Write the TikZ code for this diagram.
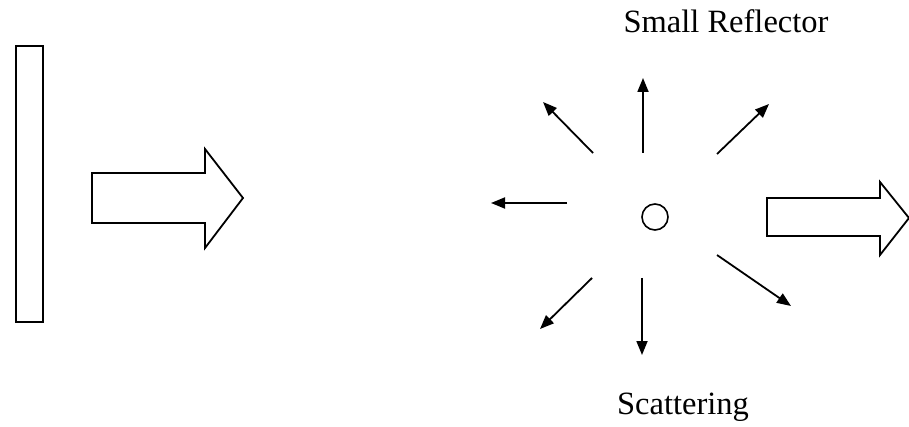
\documentclass[tikz,border=0pt]{standalone}
\usepackage{fontspec}
\setmainfont{Liberation Serif}
\usetikzlibrary{arrows.meta}
\tikzset{
  outline/.style={draw=black, line width=1.8pt, line join=miter, fill=white},
  scat/.style={draw=black, line width=1.8pt, -{Triangle[length=14pt,width=11pt]}},
  label/.style={font=\fontsize{32.5}{34}\selectfont, inner sep=0pt, anchor=base}
}
\begin{document}
\begin{tikzpicture}[x=1pt,y=-1pt]
  \useasboundingbox (0,0) rectangle (909,427);
  \begin{scope}
    \clip (0,0) rectangle (909,427);
    % source plate
    \draw[outline] (16,46) rectangle (43,322);
    % incident wave
    \draw[outline] (92,173) -- (205,173) -- (205,149) -- (243,198)
      -- (205,248) -- (205,223) -- (92,223) -- cycle;
    % small reflector
    \node[draw, circle, line width=1.6pt, minimum size=26pt, inner sep=0pt] (refl) at (655,217) {};
    % scattered rays
    \draw[scat] (643,153) -- (643,78);
    \draw[scat] (593,153) -- (543,102);
    \draw[scat] (717,154) -- (769,104);
    \draw[scat] (567,203) -- (491,203);
    \draw[scat] (592,278) -- (540,329);
    \draw[scat] (642,278) -- (642,355);
    \draw[scat] (717,255) -- (791,306);
    % transmitted wave
    \draw[outline] (767,198) -- (880,198) -- (880,182) -- (909,218)
      -- (880,255) -- (880,236) -- (767,236) -- cycle;
  \end{scope}
  \node[label] (top) at (726,33) {Small Reflector};
  \node[label] (bottom) at (683,414) {Scattering};
\end{tikzpicture}
\end{document}
